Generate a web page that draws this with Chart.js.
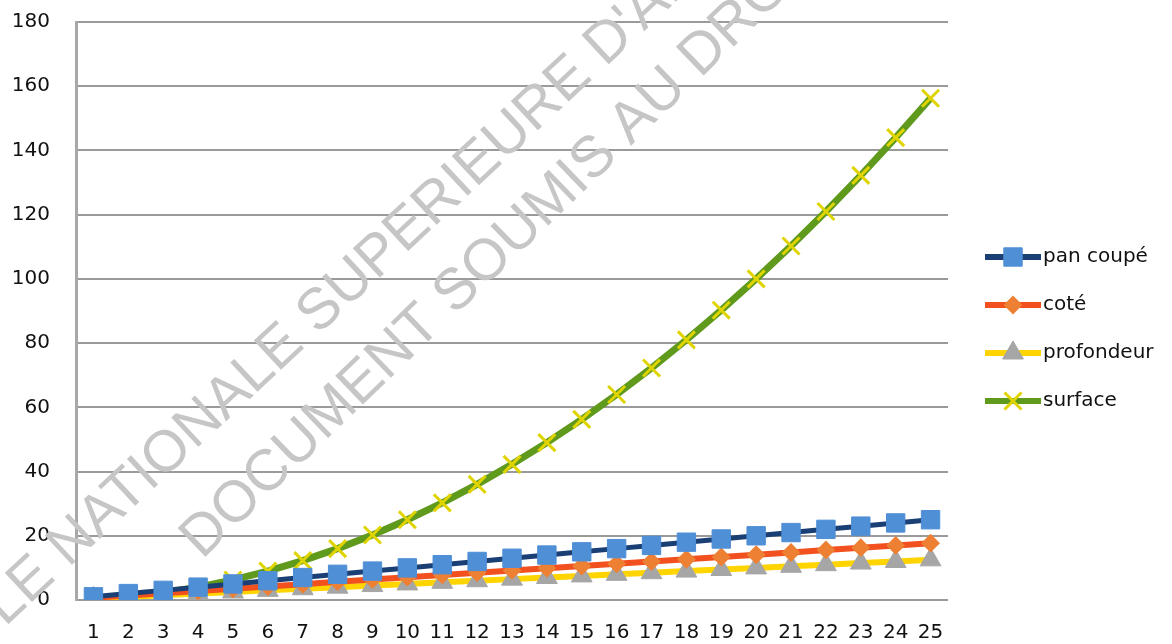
<!DOCTYPE html>
<html>
<head>
<meta charset="utf-8">
<script src="https://cdn.jsdelivr.net/npm/chart.js@4.4.1/dist/chart.umd.min.js"></script>
<style>
  html, body { margin: 0; padding: 0; background: #fff; }
  #wrap { width: 1172px; height: 644px; }
</style>
</head>
<body>
<div id="wrap"><canvas id="chart" width="1172" height="644"></canvas></div>
<script>
const categories = ['1','2','3','4','5','6','7','8','9','10','11','12','13','14','15','16','17','18','19','20','21','22','23','24','25'];

const panCoupe = [1, 2, 3, 4, 5, 6, 7, 8, 9, 10, 11, 12, 13, 14, 15, 16, 17, 18, 19, 20, 21, 22, 23, 24, 25];
const cote = [0.7, 1.4, 2.1, 2.8, 3.5, 4.2, 4.9, 5.7, 6.4, 7.1, 7.8, 8.5, 9.2, 9.9, 10.6, 11.3, 12, 12.7, 13.4, 14.1, 14.8, 15.6, 16.3, 17, 17.7];
const profondeur = [0.5, 1, 1.5, 2, 2.5, 3, 3.5, 4, 4.5, 5, 5.5, 6, 6.5, 7, 7.5, 8, 8.5, 9, 9.5, 10, 10.5, 11, 11.5, 12, 12.5];
const surface = [0.25, 1, 2.25, 4, 6.25, 9, 12.25, 16, 20.25, 25, 30.25, 36, 42.25, 49, 56.25, 64, 72.25, 81, 90.25, 100, 110.25, 121, 132.25, 144, 156.25];

const yTicks = [0, 20, 40, 60, 80, 100, 120, 140, 160, 180];

const watermark1 = "ECOLE NATIONALE SUPERIEURE D'ARCHITECTURE";
const watermark2 = "DOCUMENT SOUMIS AU DROIT D'AUTEUR";

const FONT = 'DejaVu Sans';

// faint diagonal watermark, drawn under the series
const watermarkPlugin = {
  id: 'watermark',
  beforeDatasetsDraw(chart) {
    const ctx = chart.ctx;
    const lines = [
      { text: watermark1, x: -87, y: 713, angle: 43 },
      { text: watermark2, x: 202, y: 560, angle: 44 }
    ];
    lines.forEach(l => {
      ctx.save();
      ctx.fillStyle = '#c6c6c6';
      ctx.font = '58px "Liberation Sans", Arial, sans-serif';
      ctx.textBaseline = 'alphabetic';
      ctx.textAlign = 'left';
      ctx.translate(l.x, l.y);
      ctx.rotate(-l.angle * Math.PI / 180);
      ctx.fillText(l.text, 0, 0);
      ctx.restore();
    });
  }
};

// legend with the line running through the marker
const lineLegend = {
  id: 'lineLegend',
  afterDraw(chart) {
    const ctx = chart.ctx;
    const x0 = 985, x1 = 1041, ys = [257, 305, 353, 401];
    chart.data.datasets.forEach((ds, i) => {
      const y = ys[i];
      ctx.save();
      ctx.strokeStyle = ds.borderColor;
      ctx.lineWidth = 6;
      ctx.beginPath();
      ctx.moveTo(x0, y);
      ctx.lineTo(x1, y);
      ctx.stroke();
      ctx.fillStyle = ds.pointBackgroundColor;
      ctx.strokeStyle = ds.pointBorderColor;
      ctx.lineWidth = ds.pointBorderWidth;
      Chart.helpers.drawPoint(ctx, {
        pointStyle: ds.pointStyle,
        radius: ds.pointRadius,
        rotation: ds.pointRotation || 0,
        borderWidth: ds.pointBorderWidth
      }, (x0 + x1) / 2, y);
      ctx.fillStyle = '#111';
      ctx.font = '20px "' + FONT + '"';
      ctx.textBaseline = 'middle';
      ctx.fillText(ds.label, x1 + 2, y);
      ctx.restore();
    });
  }
};

new Chart(document.getElementById('chart'), {
  type: 'line',
  data: {
    labels: categories,
    datasets: [
      {
        label: 'pan coupé',
        data: panCoupe,
        borderColor: '#1a3f75',
        borderWidth: 5,
        pointStyle: 'rect',
        pointRadius: 13,
        pointBackgroundColor: '#4f8fd6',
        pointBorderColor: '#4f8fd6',
        pointBorderWidth: 1
      },
      {
        label: 'coté',
        data: cote,
        borderColor: '#f2501e',
        borderWidth: 6,
        pointStyle: 'rectRot',
        pointRadius: 8,
        pointBackgroundColor: '#ee8034',
        pointBorderColor: '#ee8034',
        pointBorderWidth: 2
      },
      {
        label: 'profondeur',
        data: profondeur,
        borderColor: '#ffd400',
        borderWidth: 6,
        pointStyle: 'triangle',
        pointRadius: 12,
        pointBackgroundColor: '#a6a6a6',
        pointBorderColor: '#a6a6a6',
        pointBorderWidth: 1
      },
      {
        label: 'surface',
        data: surface,
        borderColor: '#5f9a1c',
        borderWidth: 7,
        pointStyle: 'cross',
        pointRotation: 45,
        pointRadius: 12,
        pointBackgroundColor: '#e0d400',
        pointBorderColor: '#e0d400',
        pointBorderWidth: 3
      }
    ]
  },
  options: {
    responsive: false,
    animation: false,
    layout: { autoPadding: false, padding: { top: 0, right: 224, left: 0, bottom: 0 } },
    scales: {
      x: {
        offset: true,
        grid: { display: false, drawTicks: false },
        border: { display: false },
        ticks: {
          color: '#111',
          padding: 21,
          maxRotation: 0,
          autoSkip: false,
          font: { family: FONT, size: 20 }
        },
        afterFit: (scale) => { scale.height = 44; }
      },
      y: {
        min: 0,
        max: 180,
        afterBuildTicks: (scale) => { scale.ticks = yTicks.map(v => ({ value: v })); },
        grid: { color: '#9a9a9a', lineWidth: 2, drawTicks: false },
        border: { display: true, color: '#a8a8a8', width: 3 },
        ticks: {
          color: '#111',
          padding: 26,
          font: { family: FONT, size: 20 }
        },
        afterFit: (scale) => {
          scale.width = 76;
          scale.paddingTop = 22;
          scale.paddingBottom = 0;
        }
      }
    },
    plugins: {
      legend: { display: false },
      tooltip: { enabled: false }
    }
  },
  plugins: [watermarkPlugin, lineLegend]
});
</script>
</body>
</html>
